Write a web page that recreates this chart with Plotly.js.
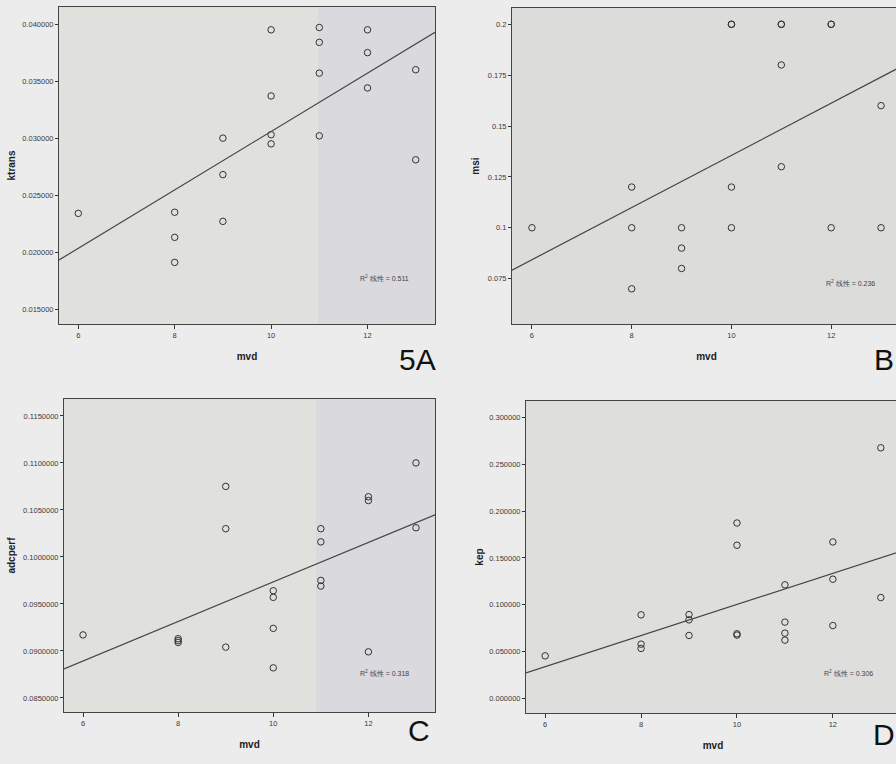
<!DOCTYPE html>
<html><head><meta charset="utf-8">
<script src="https://cdn.plot.ly/plotly-3.0.1.min.js"></script>
<style>html,body{margin:0;padding:0;overflow:hidden;background:#ececec;} #chart{width:902px;height:764px;}</style>
</head><body><div id="chart"></div>
<script>
// shared x variable (mvd)
const mvd = [6, 8,8,8, 9,9,9, 10,10,10,10, 11,11,11,11, 12,12,12, 13,13];
// panel values
const ktrans  = [0.0234, 0.0235,0.0213,0.0191, 0.0300,0.0268,0.0227, 0.0395,0.0337,0.0303,0.0295, 0.0397,0.0384,0.0357,0.0302, 0.0395,0.0375,0.0344, 0.0360,0.0281];
const msi     = [0.10, 0.12,0.10,0.07, 0.10,0.09,0.08, 0.20,0.20,0.12,0.10, 0.20,0.20,0.18,0.13, 0.20,0.20,0.10, 0.16,0.10];
const adcperf = [0.0917, 0.0913,0.0911,0.0909, 0.1075,0.1030,0.0904, 0.0964,0.0957,0.0924,0.0882, 0.1030,0.1016,0.0975,0.0969, 0.1064,0.1060,0.0899, 0.1100,0.1031];
const kep     = [0.0452, 0.0891,0.0577,0.0531, 0.0894,0.0837,0.0670, 0.1874,0.1636,0.0688,0.0674, 0.1212,0.0813,0.0695,0.0620, 0.1671,0.1272,0.0776, 0.2679,0.1076];
// labels
const yNames = ["ktrans", "msi", "adcperf", "kep"];
const r2Values = ["0.511", "0.236", "0.318", "0.306"];
const panelLabels = ["5A", "B", "C", "D"];
const xTicks = [6, 8, 10, 12];
const yTicksA = [0.015, 0.020, 0.025, 0.030, 0.035, 0.040];
const yTicksB = [0.075, 0.1, 0.125, 0.15, 0.175, 0.2];
const yTickTextB = ["0.075", "0.1", "0.125", "0.15", "0.175", "0.2"];
const yTicksC = [0.085, 0.090, 0.095, 0.100, 0.105, 0.110, 0.115];
const yTicksD = [0.00, 0.05, 0.10, 0.15, 0.20, 0.25, 0.30];

const W = 902, H = 764;
const xRange = [5.6, 13.4];

function fit(xs, ys) {
  const n = xs.length;
  const mx = xs.reduce((a,b)=>a+b,0)/n, my = ys.reduce((a,b)=>a+b,0)/n;
  let sxy = 0, sxx = 0;
  for (let i=0;i<n;i++){ sxy += (xs[i]-mx)*(ys[i]-my); sxx += (xs[i]-mx)**2; }
  const b = sxy/sxx, a = my - b*mx;
  return xr => xr.map(x => a + b*x);
}

const series = [ktrans, msi, adcperf, kep];
const traces = [];
series.forEach((ys, i) => {
  const sx = i===0 ? '' : String(i+1);
  traces.push({
    x: mvd, y: ys, type: 'scatter', mode: 'markers',
    xaxis: 'x'+sx, yaxis: 'y'+sx, showlegend: false, hoverinfo: 'x+y',
    marker: {symbol: 'circle-open', size: 6.5, color: '#333', line: {width: 1, color: '#333'}}
  });
  traces.push({
    x: xRange, y: fit(mvd, ys)(xRange), type: 'scatter', mode: 'lines',
    xaxis: 'x'+sx, yaxis: 'y'+sx, showlegend: false, hoverinfo: 'skip',
    line: {color: '#444', width: 1.2}
  });
});

const tickFont = {family: 'Liberation Sans, Arial, sans-serif', size: 7.5, color: '#3a3a3a'};
const titleFont = {family: 'Liberation Sans, Arial, sans-serif', size: 10, color: '#222', weight: 'bold'};
function xax(d, anchor) {
  return {domain: d, anchor: anchor, range: xRange, tickvals: xTicks, ticks: 'outside', ticklen: 4,
    tickcolor: '#333', tickfont: tickFont, showline: true, linecolor: '#444', linewidth: 1, mirror: true,
    showgrid: false, zeroline: false, title: {text: 'mvd', font: titleFont, standoff: 13}};
}
function yax(d, anchor, range, tv, tt, fmt, name, so) {
  const o = {domain: d, anchor: anchor, range: range, tickvals: tv, ticks: 'outside', ticklen: 3,
    tickcolor: '#333', tickfont: tickFont, showline: true, linecolor: '#444', linewidth: 1, mirror: true,
    showgrid: false, zeroline: false, title: {text: name, font: titleFont, standoff: so}};
  if (tt) o.ticktext = tt; else o.tickformat = fmt;
  return o;
}
const px = v => v/W, py = v => 1 - v/H;

const layout = {
  width: W, height: H, margin: {l:0, r:0, t:0, b:0},
  paper_bgcolor: '#ececec', plot_bgcolor: '#e0e0dd',
  font: {family: 'Liberation Sans, Arial, sans-serif'},
  xaxis:  xax([px(59), px(435)], 'y'),
  yaxis:  yax([py(324), py(7)], 'x', [0.0137, 0.0415], yTicksA, null, '.6f', yNames[0], 4),
  xaxis2: xax([px(512), px(901)], 'y2'),
  yaxis2: yax([py(324), py(8)], 'x2', [0.0527, 0.208], yTicksB, yTickTextB, null, yNames[1], 6),
  xaxis3: xax([px(64), px(435)], 'y3'),
  yaxis3: yax([py(712), py(399)], 'x3', [0.0835, 0.1168], yTicksC, null, '.7f', yNames[2], 5),
  xaxis4: xax([px(526), px(900)], 'y4'),
  yaxis4: yax([py(713), py(401)], 'x4', [-0.016, 0.318], yTicksD, null, '.6f', yNames[3], 3),
  shapes: [
    {type:'rect', xref:'paper', yref:'paper', x0:px(318), x1:px(435), y0:py(324), y1:py(7), fillcolor:'#d9d9de', line:{width:0}, layer:'below'},
    {type:'rect', xref:'paper', yref:'paper', x0:px(316), x1:px(435), y0:py(712), y1:py(399), fillcolor:'#d9d9de', line:{width:0}, layer:'below'},
    {type:'rect', xref:'paper', yref:'paper', x0:px(512), x1:px(901), y0:py(324), y1:py(8), fillcolor:'#dcdcdb', line:{width:0}, layer:'below'},
    {type:'rect', xref:'paper', yref:'paper', x0:px(526), x1:px(900), y0:py(713), y1:py(401), fillcolor:'#dedfdd', line:{width:0}, layer:'below'}
  ],
  annotations: [
    {xref:'x', yref:'y', x:12.36, y:0.0177, text:'R<sup>2</sup> 线性 = '+r2Values[0], showarrow:false, font:{size:7, color:'#444'}},
    {xref:'x2', yref:'y2', x:12.38, y:0.0728, text:'R<sup>2</sup> 线性 = '+r2Values[1], showarrow:false, font:{size:7, color:'#444'}},
    {xref:'x3', yref:'y3', x:12.34, y:0.0877, text:'R<sup>2</sup> 线性 = '+r2Values[2], showarrow:false, font:{size:7, color:'#444'}},
    {xref:'x4', yref:'y4', x:12.33, y:0.0267, text:'R<sup>2</sup> 线性 = '+r2Values[3], showarrow:false, font:{size:7, color:'#444'}},
    {xref:'paper', yref:'paper', x:px(417), y:py(360), text:panelLabels[0], showarrow:false, font:{size:30, color:'#111'}},
    {xref:'paper', yref:'paper', x:px(896), y:py(360), text:panelLabels[1], showarrow:false, font:{size:30, color:'#111'}},
    {xref:'paper', yref:'paper', x:px(419), y:py(749), text:panelLabels[2], showarrow:false, font:{size:30, color:'#111'}},
    {xref:'paper', yref:'paper', x:px(897), y:py(753), text:panelLabels[3], showarrow:false, font:{size:30, color:'#111'}}
  ]
};
Plotly.newPlot('chart', traces, layout, {displayModeBar: false, staticPlot: true});
</script></body></html>
